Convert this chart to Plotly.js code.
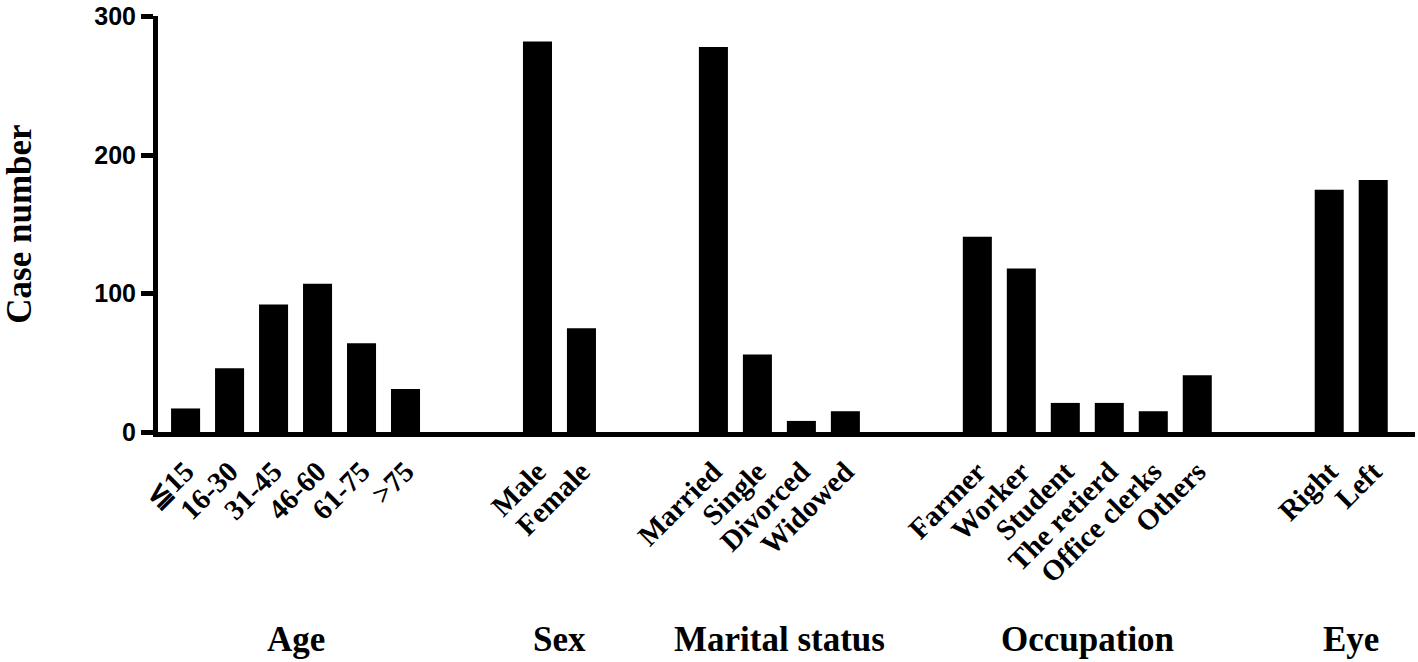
<!DOCTYPE html>
<html>
<head>
<meta charset="utf-8">
<script src="https://cdn.plot.ly/plotly-3.0.1.min.js"></script>
<style>html,body{margin:0;padding:0;background:#fff;}#chart{width:1418px;height:662px;}</style>
</head>
<body>
<div id="chart"></div>
<script>
// ---- data ----
const groupNames = ['Age', 'Sex', 'Marital status', 'Occupation', 'Eye'];
const ageLabels = ['≦15', '16-30', '31-45', '46-60', '61-75', '>75'];
const ageValues = [17, 46, 92, 107, 64, 31];
const sexLabels = ['Male', 'Female'];
const sexValues = [282, 75];
const maritalLabels = ['Married', 'Single', 'Divorced', 'Widowed'];
const maritalValues = [278, 56, 8, 15];
const occupationLabels = ['Farmer', 'Worker', 'Student', 'The retierd', 'Office clerks', 'Others'];
const occupationValues = [141, 118, 21, 21, 15, 41];
const eyeLabels = ['Right', 'Left'];
const eyeValues = [175, 182];
const yTicks = [0, 100, 200, 300];

// ---- build ----
const groups = [
  [ageLabels, ageValues], [sexLabels, sexValues], [maritalLabels, maritalValues],
  [occupationLabels, occupationValues], [eyeLabels, eyeValues]
];
const emptySlotsBetweenGroups = 2;
const xs = [], ys = [], labels = [], groupCenters = [];
let slot = 0;
groups.forEach(function (g) {
  const start = slot;
  g[0].forEach(function (lab, i) {
    xs.push(slot); ys.push(g[1][i]); labels.push(lab); slot++;
  });
  groupCenters.push((start + slot - 1) / 2);
  slot += emptySlotsBetweenGroups;
});
const lastSlot = xs[xs.length - 1];

const serif = 'Liberation Serif, Times New Roman, serif';
const sans = 'Liberation Sans, Arial, sans-serif';

const trace = {
  type: 'bar', x: xs, y: ys, width: 0.66,
  marker: {color: '#000', line: {width: 0}},
  hoverinfo: 'skip'
};

const annotations = groupNames.map(function (name, i) {
  return {
    text: name, xref: 'x', yref: 'paper', x: groupCenters[i], y: -0.498,
    xanchor: 'center', yanchor: 'middle', showarrow: false,
    font: {family: serif, size: 35, color: '#000', weight: 700}
  };
});

const layout = {
  width: 1418, height: 662,
  margin: {l: 157.5, r: 3, t: 16, b: 229.5},
  paper_bgcolor: '#fff', plot_bgcolor: '#fff',
  showlegend: false,
  xaxis: {
    range: [-0.627, lastSlot + 0.95],
    tickmode: 'array', tickvals: xs, ticktext: labels,
    tickangle: -45, ticks: '', showgrid: false, zeroline: false,
    showline: true, linewidth: 5, linecolor: '#000',
    ticklabelstandoff: 6,
    tickfont: {family: serif, size: 29, color: '#000', weight: 700}
  },
  yaxis: {
    range: [0, 300.4], tickmode: 'array', tickvals: yTicks,
    ticks: 'outside', ticklen: 12, tickwidth: 5, tickcolor: '#000',
    showline: true, linewidth: 5, linecolor: '#000',
    showgrid: false, zeroline: false,
    ticklabeloverflow: 'allow',
    tickfont: {family: sans, size: 25, color: '#000', weight: 700},
    title: {text: 'Case number', standoff: 70,
            font: {family: serif, size: 35, color: '#000', weight: 700}}
  },
  annotations: annotations
};

Plotly.newPlot('chart', [trace], layout, {staticPlot: true, displayModeBar: false});
</script>
</body>
</html>
